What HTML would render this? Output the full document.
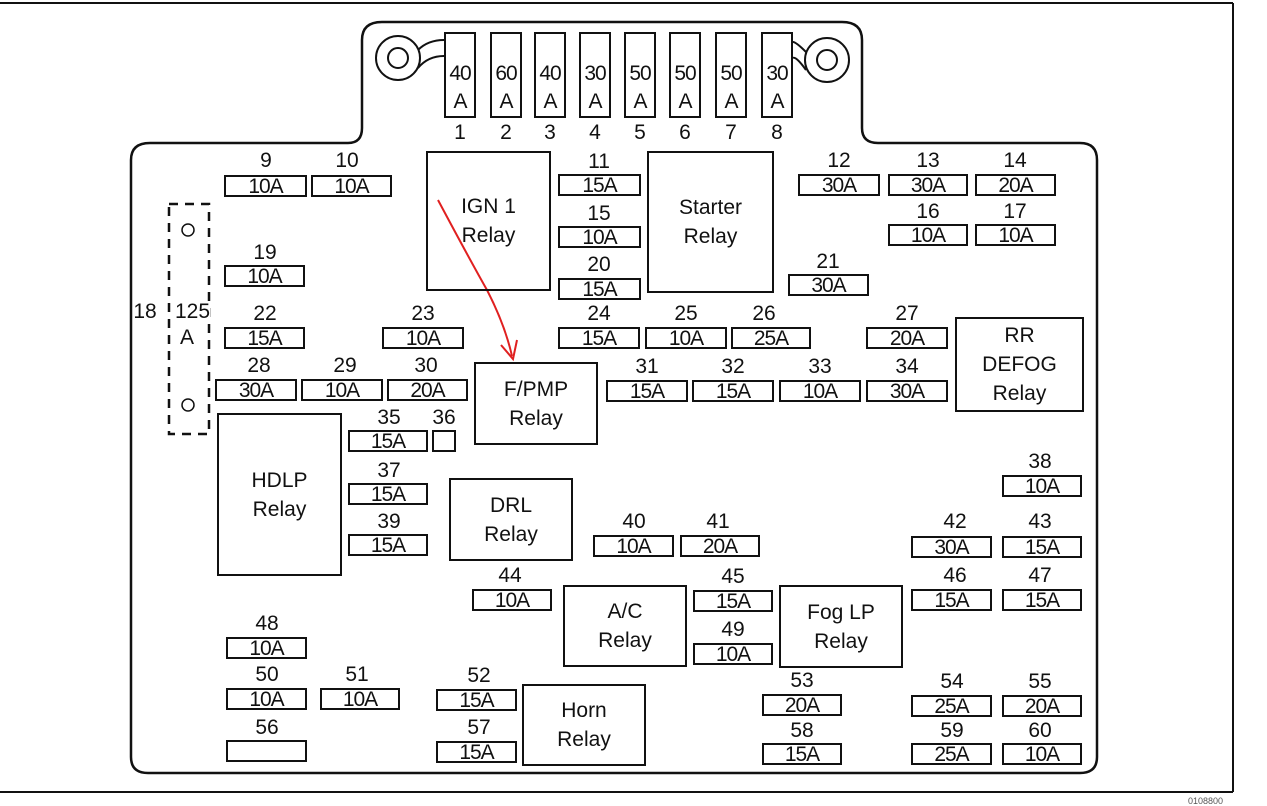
<!DOCTYPE html>
<html><head><meta charset="utf-8"><style>
body{margin:0;background:#fff;width:1267px;height:804px;overflow:hidden;position:relative;font-family:"Liberation Sans",Arial,sans-serif;color:#111}
.f{position:absolute;height:22px;border:2px solid #111;box-sizing:border-box;font-size:21px;line-height:20px;text-align:center;letter-spacing:-1px}
.n{position:absolute;font-size:21px;line-height:20px;text-align:center;width:60px;margin-left:-30px}
.r{position:absolute;border:2px solid #111;box-sizing:border-box;font-size:21px;line-height:29px;text-align:center;display:flex;align-items:center;justify-content:center}
.t{position:absolute;width:32px;height:86px;top:32px;border:2px solid #111;box-sizing:border-box;font-size:21px;text-align:center;line-height:28px;padding-top:26px;letter-spacing:-1px}
.tn{position:absolute;top:121px;font-size:21px;width:32px;text-align:center}
</style></head><body>
<svg width="1267" height="804" style="position:absolute;left:0;top:0">
<line x1="0" y1="3" x2="1233" y2="3" stroke="#111" stroke-width="2"/>
<line x1="1233" y1="3" x2="1233" y2="792" stroke="#111" stroke-width="2"/>
<line x1="0" y1="792" x2="1233" y2="792" stroke="#111" stroke-width="2"/>
<path d="M150 143 H348 Q362 143 362 128 V40 Q362 22 382 22 H842 Q862 22 862 40 V128 Q862 143 878 143 H1080 Q1097 143 1097 160 V757 Q1097 773 1080 773 H148 Q131 773 131 757 V160 Q131 143 150 143 Z" fill="none" stroke="#111" stroke-width="2.5"/>
<circle cx="398" cy="58" r="22" fill="none" stroke="#111" stroke-width="2"/>
<circle cx="398" cy="58" r="10" fill="none" stroke="#111" stroke-width="2"/>
<path d="M418 50 Q428 40 444 40 M418 68 Q428 56 444 56" fill="none" stroke="#111" stroke-width="2"/>
<circle cx="827" cy="60" r="22" fill="none" stroke="#111" stroke-width="2"/>
<circle cx="827" cy="60" r="10" fill="none" stroke="#111" stroke-width="2"/>
<path d="M806 52 Q796 42 793 42 M806 70 Q796 56 793 58" fill="none" stroke="#111" stroke-width="2"/>
<rect x="169" y="204" width="40" height="230" fill="none" stroke="#111" stroke-width="2.5" stroke-dasharray="9,7"/>
<circle cx="188" cy="230" r="6" fill="none" stroke="#111" stroke-width="1.5"/>
<circle cx="188" cy="405" r="6" fill="none" stroke="#111" stroke-width="1.5"/>
<path d="M438 200 Q470 260 487 290 Q505 325 512 356" fill="none" stroke="#e02020" stroke-width="2"/>
<path d="M501 345 L513 359 L517 340" fill="none" stroke="#e02020" stroke-width="2"/>
</svg>
<div class="n" style="left:160px;top:302px;width:30px">18</div>
<div style="position:absolute;left:175px;top:302px;font-size:21px;background:#fff;line-height:20px">125</div>
<div style="position:absolute;left:180px;top:328px;font-size:21px;background:#fff;line-height:20px">A</div>

<div class="t" style="left:444px">40<br>A</div><div class="tn" style="left:444px">1</div>
<div class="t" style="left:490px">60<br>A</div><div class="tn" style="left:490px">2</div>
<div class="t" style="left:534px">40<br>A</div><div class="tn" style="left:534px">3</div>
<div class="t" style="left:579px">30<br>A</div><div class="tn" style="left:579px">4</div>
<div class="t" style="left:624px">50<br>A</div><div class="tn" style="left:624px">5</div>
<div class="t" style="left:669px">50<br>A</div><div class="tn" style="left:669px">6</div>
<div class="t" style="left:715px">50<br>A</div><div class="tn" style="left:715px">7</div>
<div class="t" style="left:761px">30<br>A</div><div class="tn" style="left:761px">8</div>

<div class="r" style="left:426px;top:151px;width:125px;height:140px">IGN 1<br>Relay</div>
<div class="r" style="left:647px;top:151px;width:127px;height:142px">Starter<br>Relay</div>
<div class="r" style="left:955px;top:317px;width:129px;height:95px">RR<br>DEFOG<br>Relay</div>
<div class="r" style="left:474px;top:362px;width:124px;height:83px">F/PMP<br>Relay</div>
<div class="r" style="left:217px;top:413px;width:125px;height:163px">HDLP<br>Relay</div>
<div class="r" style="left:449px;top:478px;width:124px;height:83px">DRL<br>Relay</div>
<div class="r" style="left:563px;top:585px;width:124px;height:82px">A/C<br>Relay</div>
<div class="r" style="left:779px;top:585px;width:124px;height:83px">Fog LP<br>Relay</div>
<div class="r" style="left:522px;top:684px;width:124px;height:82px">Horn<br>Relay</div>

<div class="f" style="left:224px;top:175px;width:83px">10A</div><div class="n" style="left:266px;top:151px">9</div>
<div class="f" style="left:311px;top:175px;width:81px">10A</div><div class="n" style="left:347px;top:151px">10</div>
<div class="f" style="left:558px;top:174px;width:83px">15A</div><div class="n" style="left:599px;top:152px">11</div>
<div class="f" style="left:558px;top:226px;width:83px">10A</div><div class="n" style="left:599px;top:204px">15</div>
<div class="f" style="left:558px;top:278px;width:83px">15A</div><div class="n" style="left:599px;top:255px">20</div>
<div class="f" style="left:798px;top:174px;width:82px">30A</div><div class="n" style="left:839px;top:151px">12</div>
<div class="f" style="left:888px;top:174px;width:80px">30A</div><div class="n" style="left:928px;top:151px">13</div>
<div class="f" style="left:975px;top:174px;width:81px">20A</div><div class="n" style="left:1015px;top:151px">14</div>
<div class="f" style="left:888px;top:224px;width:80px">10A</div><div class="n" style="left:928px;top:202px">16</div>
<div class="f" style="left:975px;top:224px;width:81px">10A</div><div class="n" style="left:1015px;top:202px">17</div>
<div class="f" style="left:788px;top:274px;width:81px">30A</div><div class="n" style="left:828px;top:252px">21</div>
<div class="f" style="left:224px;top:265px;width:81px">10A</div><div class="n" style="left:265px;top:243px">19</div>
<div class="f" style="left:224px;top:327px;width:81px">15A</div><div class="n" style="left:265px;top:304px">22</div>
<div class="f" style="left:382px;top:327px;width:82px">10A</div><div class="n" style="left:423px;top:304px">23</div>
<div class="f" style="left:558px;top:327px;width:82px">15A</div><div class="n" style="left:599px;top:304px">24</div>
<div class="f" style="left:645px;top:327px;width:82px">10A</div><div class="n" style="left:686px;top:304px">25</div>
<div class="f" style="left:731px;top:327px;width:80px">25A</div><div class="n" style="left:764px;top:304px">26</div>
<div class="f" style="left:866px;top:327px;width:82px">20A</div><div class="n" style="left:907px;top:304px">27</div>
<div class="f" style="left:215px;top:379px;width:82px">30A</div><div class="n" style="left:259px;top:356px">28</div>
<div class="f" style="left:301px;top:379px;width:82px">10A</div><div class="n" style="left:345px;top:356px">29</div>
<div class="f" style="left:387px;top:379px;width:81px">20A</div><div class="n" style="left:426px;top:356px">30</div>
<div class="f" style="left:606px;top:380px;width:82px">15A</div><div class="n" style="left:647px;top:357px">31</div>
<div class="f" style="left:692px;top:380px;width:82px">15A</div><div class="n" style="left:733px;top:357px">32</div>
<div class="f" style="left:779px;top:380px;width:82px">10A</div><div class="n" style="left:820px;top:357px">33</div>
<div class="f" style="left:866px;top:380px;width:82px">30A</div><div class="n" style="left:907px;top:357px">34</div>
<div class="f" style="left:348px;top:430px;width:80px">15A</div><div class="n" style="left:389px;top:408px">35</div>
<div class="f" style="left:432px;top:430px;width:24px"></div><div class="n" style="left:444px;top:408px">36</div>
<div class="f" style="left:348px;top:483px;width:80px">15A</div><div class="n" style="left:389px;top:461px">37</div>
<div class="f" style="left:348px;top:534px;width:80px">15A</div><div class="n" style="left:389px;top:512px">39</div>
<div class="f" style="left:1002px;top:475px;width:80px">10A</div><div class="n" style="left:1040px;top:452px">38</div>
<div class="f" style="left:593px;top:535px;width:81px">10A</div><div class="n" style="left:634px;top:512px">40</div>
<div class="f" style="left:680px;top:535px;width:80px">20A</div><div class="n" style="left:718px;top:512px">41</div>
<div class="f" style="left:911px;top:536px;width:81px">30A</div><div class="n" style="left:955px;top:512px">42</div>
<div class="f" style="left:1002px;top:536px;width:80px">15A</div><div class="n" style="left:1040px;top:512px">43</div>
<div class="f" style="left:472px;top:589px;width:80px">10A</div><div class="n" style="left:510px;top:566px">44</div>
<div class="f" style="left:693px;top:590px;width:80px">15A</div><div class="n" style="left:733px;top:567px">45</div>
<div class="f" style="left:693px;top:643px;width:80px">10A</div><div class="n" style="left:733px;top:620px">49</div>
<div class="f" style="left:911px;top:589px;width:81px">15A</div><div class="n" style="left:955px;top:566px">46</div>
<div class="f" style="left:1002px;top:589px;width:80px">15A</div><div class="n" style="left:1040px;top:566px">47</div>
<div class="f" style="left:226px;top:637px;width:81px">10A</div><div class="n" style="left:267px;top:614px">48</div>
<div class="f" style="left:226px;top:688px;width:81px">10A</div><div class="n" style="left:267px;top:665px">50</div>
<div class="f" style="left:320px;top:688px;width:80px">10A</div><div class="n" style="left:357px;top:665px">51</div>
<div class="f" style="left:436px;top:689px;width:81px">15A</div><div class="n" style="left:479px;top:666px">52</div>
<div class="f" style="left:436px;top:741px;width:81px">15A</div><div class="n" style="left:479px;top:718px">57</div>
<div class="f" style="left:226px;top:740px;width:81px"></div><div class="n" style="left:267px;top:718px">56</div>
<div class="f" style="left:762px;top:694px;width:80px">20A</div><div class="n" style="left:802px;top:671px">53</div>
<div class="f" style="left:762px;top:743px;width:80px">15A</div><div class="n" style="left:802px;top:721px">58</div>
<div class="f" style="left:911px;top:695px;width:81px">25A</div><div class="n" style="left:952px;top:672px">54</div>
<div class="f" style="left:1002px;top:695px;width:80px">20A</div><div class="n" style="left:1040px;top:672px">55</div>
<div class="f" style="left:911px;top:743px;width:81px">25A</div><div class="n" style="left:952px;top:721px">59</div>
<div class="f" style="left:1002px;top:743px;width:80px">10A</div><div class="n" style="left:1040px;top:721px">60</div>
<div style="position:absolute;left:1188px;top:796px;font-size:9px;color:#555">0108800</div>
</body></html>
